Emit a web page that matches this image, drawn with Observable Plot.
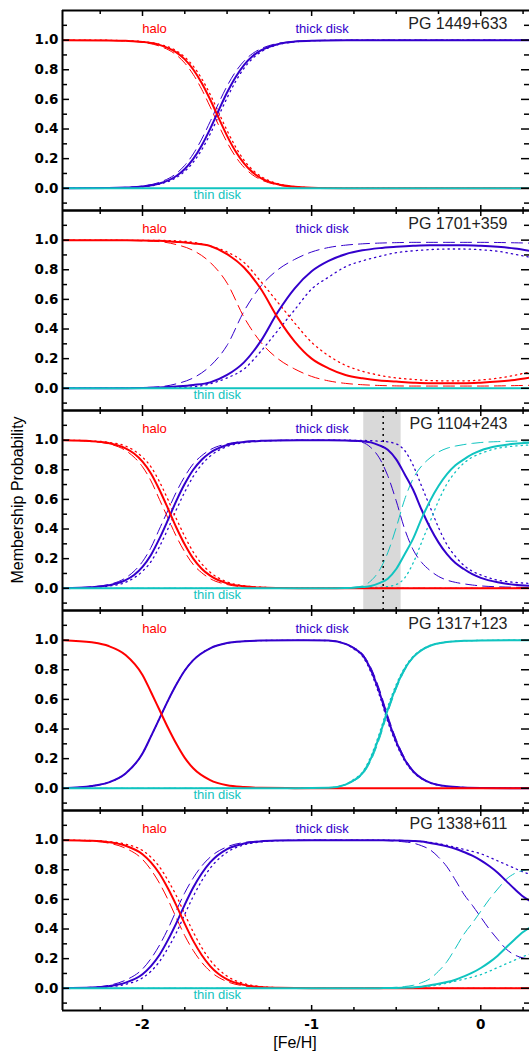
<!DOCTYPE html>
<html><head><meta charset="utf-8">
<script src="https://cdn.jsdelivr.net/npm/d3@7"></script>
<script src="https://cdn.jsdelivr.net/npm/@observablehq/plot@0.6"></script>
<style>
html,body{margin:0;padding:0;background:#fff;}
#wrap{position:relative;width:529px;height:1052px;overflow:hidden;font-family:"Liberation Sans",Arial,sans-serif;}
#chart{position:absolute;left:0;top:0;}
#ylab{position:absolute;left:18px;top:500px;transform:translate(-50%,-50%) rotate(-90deg);font-size:16px;white-space:nowrap;color:#000;}
#xlab{position:absolute;left:295px;top:1043px;transform:translate(-50%,-50%);font-size:16px;white-space:nowrap;color:#000;}
</style></head><body>
<div id="wrap"><div id="chart"></div><div id="ylab">Membership Probability</div><div id="xlab">[Fe/H]</div></div>
<script>
// ---------- categories / labels ----------
const stars = ["PG 1449+633", "PG 1701+359", "PG 1104+243", "PG 1317+123", "PG 1338+611"];
const components = ["halo", "thick disk", "thin disk"];
const componentLabelFeH = [-1.929, -0.938, -1.558];
const componentLabelProb = [1.076, 1.076, -0.047];
const starLabelFeH = 0.158;
const starLabelProb = 1.11;
const bandStar = "PG 1104+243";
const bandFeH = [-0.692, -0.471];
const markerFeH = -0.577;

// ---------- axis ticks ----------
const xDomain = [-2.473, 0.288];
const yDomain = [-0.15, 1.2];
const xMajor = [-2, -1, 0];
const xMinor = [-2.25, -1.75, -1.5, -1.25, -0.75, -0.5, -0.25, 0.25];
const yMajor = [0, 0.2, 0.4, 0.6, 0.8, 1.0];
const yMinor = [-0.1, 0.1, 0.3, 0.5, 0.7, 0.9, 1.1];

// ---------- panel 1: PG 1449+633 ----------
const p1FeH = [-2.47, -2.2, -2.1, -2.0, -1.9, -1.8, -1.75, -1.7, -1.65, -1.6, -1.55, -1.5, -1.45, -1.4, -1.35, -1.3, -1.2, -1.1, -1.0, -0.8, -0.5, 0.29];
const p1HaloSolid  = [1, 0.998, 0.995, 0.988, 0.968, 0.917, 0.870, 0.802, 0.711, 0.599, 0.475, 0.354, 0.250, 0.168, 0.109, 0.069, 0.027, 0.010, 0.004, 0.001, 0, 0];
const p1HaloDashed = [1, 0.998, 0.994, 0.985, 0.960, 0.900, 0.845, 0.768, 0.668, 0.550, 0.426, 0.310, 0.214, 0.142, 0.091, 0.058, 0.022, 0.008, 0.003, 0, 0, 0];
const p1HaloDotted = [1, 0.999, 0.996, 0.990, 0.972, 0.928, 0.885, 0.824, 0.740, 0.634, 0.512, 0.390, 0.280, 0.190, 0.125, 0.080, 0.031, 0.012, 0.004, 0.001, 0, 0];
const p1ThickSolid  = [0, 0.002, 0.005, 0.012, 0.032, 0.083, 0.130, 0.198, 0.289, 0.401, 0.525, 0.646, 0.750, 0.832, 0.891, 0.931, 0.973, 0.990, 0.996, 0.999, 1, 1];
const p1ThickDashed = [0, 0.002, 0.006, 0.015, 0.040, 0.100, 0.155, 0.232, 0.332, 0.450, 0.574, 0.690, 0.786, 0.858, 0.909, 0.942, 0.978, 0.992, 0.997, 1, 1, 1];
const p1ThickDotted = [0, 0.001, 0.004, 0.010, 0.028, 0.072, 0.115, 0.176, 0.260, 0.366, 0.488, 0.610, 0.720, 0.810, 0.875, 0.920, 0.969, 0.988, 0.996, 0.999, 1, 1];
const p1ThinSolid   = [0, 0, 0, 0, 0, 0, 0, 0, 0, 0, 0, 0, 0, 0, 0, 0, 0, 0, 0, 0, 0, 0];

// ---------- panel 2: PG 1701+359 ----------
const p2FeH = [-2.47, -2.1, -2.0, -1.9, -1.8, -1.7, -1.6, -1.5, -1.4, -1.3, -1.2, -1.1, -1.0, -0.9, -0.8, -0.7, -0.6, -0.5, -0.4, -0.3, -0.2, -0.1, 0, 0.1, 0.2, 0.29];
const p2HaloSolid   = [1, 0.999, 0.998, 0.995, 0.988, 0.978, 0.96, 0.905, 0.815, 0.67, 0.475, 0.315, 0.20, 0.135, 0.09, 0.067, 0.052, 0.045, 0.038, 0.034, 0.034, 0.034, 0.038, 0.045, 0.056, 0.072];
const p2HaloDashed  = [1, 0.998, 0.995, 0.99, 0.97, 0.93, 0.85, 0.71, 0.48, 0.31, 0.2, 0.13, 0.08, 0.05, 0.033, 0.024, 0.019, 0.016, 0.015, 0.015, 0.015, 0.015, 0.015, 0.016, 0.018, 0.02];
const p2HaloDotted  = [1, 0.999, 0.999, 0.998, 0.995, 0.985, 0.96, 0.92, 0.85, 0.72, 0.58, 0.44, 0.31, 0.22, 0.155, 0.115, 0.088, 0.07, 0.06, 0.052, 0.05, 0.05, 0.056, 0.068, 0.088, 0.11];
const p2ThickSolid  = [0, 0.001, 0.002, 0.005, 0.012, 0.022, 0.04, 0.09, 0.175, 0.32, 0.515, 0.675, 0.79, 0.86, 0.905, 0.931, 0.946, 0.955, 0.962, 0.966, 0.966, 0.966, 0.962, 0.955, 0.944, 0.928];
const p2ThickDashed = [0, 0.002, 0.005, 0.01, 0.03, 0.07, 0.15, 0.29, 0.52, 0.69, 0.80, 0.87, 0.92, 0.95, 0.966, 0.975, 0.98, 0.983, 0.985, 0.985, 0.985, 0.985, 0.985, 0.984, 0.982, 0.98];
const p2ThickDotted = [0, 0.001, 0.001, 0.002, 0.004, 0.01, 0.03, 0.07, 0.13, 0.25, 0.39, 0.53, 0.67, 0.75, 0.82, 0.86, 0.89, 0.915, 0.928, 0.936, 0.94, 0.94, 0.935, 0.925, 0.905, 0.885];
const p2ThinSolid   = [0, 0, 0, 0, 0, 0, 0, 0, 0, 0, 0, 0, 0, 0, 0, 0, 0, 0, 0, 0, 0, 0, 0, 0, 0, 0];

// ---------- panel 3: PG 1104+243 ----------
const p3FeH = [-2.47, -2.3, -2.2, -2.1, -2.05, -2.0, -1.95, -1.9, -1.85, -1.8, -1.75, -1.7, -1.65, -1.6, -1.5, -1.4, -1.3, -1.2, -1.0, -0.9, -0.8, -0.75, -0.7, -0.65, -0.6, -0.55, -0.5, -0.45, -0.4, -0.35, -0.3, -0.25, -0.2, -0.15, -0.1, -0.05, 0, 0.1, 0.2, 0.29];
const p3HaloSolid   = [0.999, 0.993, 0.98, 0.945, 0.91, 0.855, 0.775, 0.665, 0.54, 0.41, 0.295, 0.2, 0.132, 0.085, 0.033, 0.013, 0.005, 0.002, 0, 0, 0, 0, 0, 0, 0, 0, 0, 0, 0, 0, 0, 0, 0, 0, 0, 0, 0, 0, 0, 0];
const p3HaloDashed  = [0.999, 0.99, 0.975, 0.93, 0.885, 0.82, 0.725, 0.6, 0.475, 0.35, 0.245, 0.16, 0.105, 0.065, 0.025, 0.009, 0.003, 0.001, 0, 0, 0, 0, 0, 0, 0, 0, 0, 0, 0, 0, 0, 0, 0, 0, 0, 0, 0, 0, 0, 0];
const p3HaloDotted  = [1, 0.995, 0.985, 0.96, 0.93, 0.885, 0.82, 0.72, 0.6, 0.47, 0.35, 0.245, 0.165, 0.108, 0.043, 0.017, 0.007, 0.003, 0, 0, 0, 0, 0, 0, 0, 0, 0, 0, 0, 0, 0, 0, 0, 0, 0, 0, 0, 0, 0, 0];
const p3ThickSolid  = [0.001, 0.007, 0.02, 0.055, 0.09, 0.145, 0.225, 0.335, 0.46, 0.59, 0.705, 0.8, 0.868, 0.915, 0.967, 0.987, 0.995, 0.998, 1, 1, 0.998, 0.996, 0.992, 0.985, 0.965, 0.935, 0.87, 0.77, 0.665, 0.53, 0.41, 0.31, 0.23, 0.17, 0.13, 0.095, 0.07, 0.04, 0.024, 0.017];
const p3ThickDashed = [0.001, 0.01, 0.025, 0.07, 0.115, 0.18, 0.275, 0.4, 0.525, 0.65, 0.755, 0.84, 0.895, 0.935, 0.975, 0.991, 0.997, 0.999, 1, 1, 0.997, 0.993, 0.985, 0.95, 0.88, 0.76, 0.59, 0.4, 0.26, 0.175, 0.12, 0.08, 0.055, 0.04, 0.03, 0.022, 0.016, 0.01, 0.007, 0.005];
const p3ThickDotted = [0, 0.005, 0.015, 0.04, 0.07, 0.115, 0.18, 0.28, 0.4, 0.53, 0.65, 0.755, 0.835, 0.892, 0.957, 0.983, 0.993, 0.997, 1, 1, 1, 0.999, 0.998, 0.996, 0.993, 0.988, 0.975, 0.93, 0.83, 0.69, 0.55, 0.41, 0.295, 0.215, 0.155, 0.115, 0.09, 0.055, 0.04, 0.033];
const p3ThinSolid   = [0, 0, 0, 0, 0, 0, 0, 0, 0, 0, 0, 0, 0, 0, 0, 0, 0, 0, 0, 0, 0.002, 0.004, 0.008, 0.015, 0.035, 0.065, 0.13, 0.23, 0.335, 0.47, 0.59, 0.69, 0.77, 0.83, 0.87, 0.905, 0.93, 0.96, 0.976, 0.983];
const p3ThinDashed  = [0, 0, 0, 0, 0, 0, 0, 0, 0, 0, 0, 0, 0, 0, 0, 0, 0, 0, 0, 0, 0.003, 0.007, 0.015, 0.05, 0.12, 0.24, 0.41, 0.6, 0.74, 0.825, 0.88, 0.92, 0.945, 0.96, 0.97, 0.978, 0.984, 0.99, 0.993, 0.995];
const p3ThinDotted  = [0, 0, 0, 0, 0, 0, 0, 0, 0, 0, 0, 0, 0, 0, 0, 0, 0, 0, 0, 0, 0, 0, 0.002, 0.004, 0.007, 0.012, 0.025, 0.07, 0.17, 0.31, 0.45, 0.59, 0.705, 0.785, 0.845, 0.885, 0.91, 0.945, 0.96, 0.967];

// ---------- panel 4: PG 1317+123 ----------
const p4FeH = [-2.47, -2.3, -2.2, -2.1, -2.0, -1.95, -1.9, -1.85, -1.8, -1.75, -1.7, -1.6, -1.5, -1.4, -1.3, -1.1, -0.9, -0.8, -0.75, -0.7, -0.65, -0.6, -0.55, -0.5, -0.45, -0.4, -0.35, -0.3, -0.2, -0.1, 0, 0.29];
const p4HaloSolid   = [1, 0.985, 0.96, 0.9, 0.765, 0.65, 0.53, 0.41, 0.3, 0.205, 0.135, 0.055, 0.02, 0.008, 0.003, 0.001, 0, 0, 0, 0, 0, 0, 0, 0, 0, 0, 0, 0, 0, 0, 0, 0];
const p4ThickSolid  = [0, 0.015, 0.04, 0.1, 0.235, 0.35, 0.47, 0.59, 0.7, 0.795, 0.865, 0.945, 0.98, 0.992, 0.997, 0.999, 0.997, 0.975, 0.945, 0.9, 0.8, 0.65, 0.47, 0.315, 0.195, 0.115, 0.067, 0.038, 0.013, 0.005, 0.002, 0];
const p4ThickDashed = [0, 0.015, 0.04, 0.1, 0.235, 0.35, 0.47, 0.59, 0.7, 0.795, 0.865, 0.945, 0.98, 0.992, 0.997, 0.999, 0.997, 0.977, 0.95, 0.908, 0.815, 0.67, 0.49, 0.33, 0.205, 0.12, 0.07, 0.04, 0.014, 0.005, 0.002, 0];
const p4ThickDotted = [0, 0.015, 0.04, 0.1, 0.235, 0.35, 0.47, 0.59, 0.7, 0.795, 0.865, 0.945, 0.98, 0.992, 0.997, 0.999, 0.997, 0.973, 0.94, 0.892, 0.785, 0.63, 0.45, 0.30, 0.185, 0.11, 0.064, 0.036, 0.012, 0.005, 0.002, 0];
const p4ThinSolid   = [0, 0, 0, 0, 0, 0, 0, 0, 0, 0, 0, 0, 0, 0, 0, 0, 0.003, 0.025, 0.055, 0.1, 0.2, 0.35, 0.53, 0.685, 0.805, 0.885, 0.933, 0.962, 0.987, 0.995, 0.998, 1];
const p4ThinDashed  = [0, 0, 0, 0, 0, 0, 0, 0, 0, 0, 0, 0, 0, 0, 0, 0, 0.003, 0.023, 0.05, 0.092, 0.185, 0.33, 0.51, 0.67, 0.795, 0.88, 0.93, 0.96, 0.986, 0.995, 0.998, 1];
const p4ThinDotted  = [0, 0, 0, 0, 0, 0, 0, 0, 0, 0, 0, 0, 0, 0, 0, 0, 0.003, 0.027, 0.06, 0.108, 0.215, 0.37, 0.55, 0.70, 0.815, 0.89, 0.936, 0.964, 0.988, 0.995, 0.998, 1];

// ---------- panel 5: PG 1338+611 ----------
const p5FeH = [-2.47, -2.3, -2.2, -2.1, -2.0, -1.95, -1.9, -1.85, -1.8, -1.75, -1.7, -1.65, -1.6, -1.5, -1.4, -1.3, -1.2, -1.0, -0.8, -0.6, -0.5, -0.45, -0.4, -0.35, -0.3, -0.25, -0.2, -0.15, -0.1, -0.05, 0, 0.05, 0.1, 0.15, 0.2, 0.25, 0.29];
const p5HaloSolid   = [0.999, 0.995, 0.986, 0.962, 0.905, 0.85, 0.775, 0.675, 0.56, 0.435, 0.32, 0.225, 0.15, 0.06, 0.023, 0.008, 0.003, 0, 0, 0, 0, 0, 0, 0, 0, 0, 0, 0, 0, 0, 0, 0, 0, 0, 0, 0, 0];
const p5HaloDashed  = [0.999, 0.993, 0.98, 0.945, 0.87, 0.80, 0.71, 0.60, 0.475, 0.355, 0.255, 0.175, 0.115, 0.045, 0.016, 0.006, 0.002, 0, 0, 0, 0, 0, 0, 0, 0, 0, 0, 0, 0, 0, 0, 0, 0, 0, 0, 0, 0];
const p5HaloDotted  = [1, 0.997, 0.99, 0.973, 0.93, 0.885, 0.82, 0.73, 0.625, 0.5, 0.38, 0.275, 0.19, 0.082, 0.032, 0.012, 0.004, 0, 0, 0, 0, 0, 0, 0, 0, 0, 0, 0, 0, 0, 0, 0, 0, 0, 0, 0, 0];
const p5ThickSolid  = [0.001, 0.005, 0.014, 0.038, 0.095, 0.15, 0.225, 0.325, 0.44, 0.565, 0.68, 0.775, 0.85, 0.94, 0.977, 0.992, 0.997, 1, 1, 0.999, 0.998, 0.996, 0.994, 0.99, 0.98, 0.97, 0.958, 0.942, 0.92, 0.895, 0.863, 0.825, 0.78, 0.725, 0.67, 0.62, 0.59];
const p5ThickDashed = [0.001, 0.007, 0.02, 0.055, 0.13, 0.2, 0.29, 0.4, 0.525, 0.645, 0.745, 0.825, 0.885, 0.955, 0.984, 0.994, 0.998, 1, 1, 0.998, 0.993, 0.988, 0.98, 0.962, 0.935, 0.885, 0.82, 0.73, 0.635, 0.56, 0.48, 0.40, 0.33, 0.265, 0.225, 0.205, 0.198];
const p5ThickDotted = [0, 0.003, 0.01, 0.027, 0.07, 0.115, 0.18, 0.27, 0.375, 0.5, 0.62, 0.725, 0.81, 0.918, 0.968, 0.988, 0.996, 1, 1, 1, 0.998, 0.997, 0.995, 0.99, 0.985, 0.977, 0.965, 0.952, 0.938, 0.924, 0.908, 0.885, 0.86, 0.835, 0.81, 0.785, 0.77];
const p5ThinSolid   = [0, 0, 0, 0, 0, 0, 0, 0, 0, 0, 0, 0, 0, 0, 0, 0, 0, 0, 0, 0.001, 0.002, 0.004, 0.006, 0.01, 0.02, 0.03, 0.042, 0.058, 0.08, 0.105, 0.137, 0.175, 0.22, 0.275, 0.33, 0.38, 0.41];
const p5ThinDashed  = [0, 0, 0, 0, 0, 0, 0, 0, 0, 0, 0, 0, 0, 0, 0, 0, 0, 0, 0, 0.002, 0.007, 0.012, 0.02, 0.038, 0.065, 0.115, 0.18, 0.27, 0.365, 0.44, 0.52, 0.60, 0.67, 0.735, 0.775, 0.795, 0.802];
const p5ThinDotted  = [0, 0, 0, 0, 0, 0, 0, 0, 0, 0, 0, 0, 0, 0, 0, 0, 0, 0, 0, 0, 0.002, 0.003, 0.005, 0.01, 0.015, 0.023, 0.035, 0.048, 0.062, 0.076, 0.092, 0.115, 0.14, 0.165, 0.19, 0.215, 0.23];

// ---------- assemble table ----------
const panels = [
  {star: stars[0], feh: p1FeH, s: {"thick disk": {dotted: p1ThickDotted, dashed: p1ThickDashed, solid: p1ThickSolid}, "halo": {dotted: p1HaloDotted, dashed: p1HaloDashed, solid: p1HaloSolid}, "thin disk": {solid: p1ThinSolid}}},
  {star: stars[1], feh: p2FeH, s: {"thick disk": {dotted: p2ThickDotted, dashed: p2ThickDashed, solid: p2ThickSolid}, "halo": {dotted: p2HaloDotted, dashed: p2HaloDashed, solid: p2HaloSolid}, "thin disk": {solid: p2ThinSolid}}},
  {star: stars[2], feh: p3FeH, s: {"thick disk": {dotted: p3ThickDotted, dashed: p3ThickDashed, solid: p3ThickSolid}, "halo": {dotted: p3HaloDotted, dashed: p3HaloDashed, solid: p3HaloSolid}, "thin disk": {dotted: p3ThinDotted, dashed: p3ThinDashed, solid: p3ThinSolid}}},
  {star: stars[3], feh: p4FeH, s: {"thick disk": {dotted: p4ThickDotted, dashed: p4ThickDashed, solid: p4ThickSolid}, "halo": {solid: p4HaloSolid}, "thin disk": {dotted: p4ThinDotted, dashed: p4ThinDashed, solid: p4ThinSolid}}},
  {star: stars[4], feh: p5FeH, s: {"thick disk": {dotted: p5ThickDotted, dashed: p5ThickDashed, solid: p5ThickSolid}, "halo": {dotted: p5HaloDotted, dashed: p5HaloDashed, solid: p5HaloSolid}, "thin disk": {dotted: p5ThinDotted, dashed: p5ThinDashed, solid: p5ThinSolid}}}
];
const rows = [];
for (const p of panels) {
  for (const comp in p.s) for (const style in p.s[comp]) {
    const vals = p.s[comp][style];
    if (vals.length !== p.feh.length) console.error("length mismatch", p.star, comp, style, vals.length, p.feh.length);
    vals.forEach((v, i) => rows.push({star: p.star, comp, style, feh: p.feh[i], prob: v}));
  }
}
const colors = {"halo": "#ff0000", "thick disk": "#3300cc", "thin disk": "#10c4c0"};
const styleW = {solid: 2, dashed: 1, dotted: 1.3};
const styleDash = {solid: null, dashed: "11,6", dotted: "1.3,4"};

const lineMarks = [];
for (const style of ["dotted", "dashed", "solid"]) {
  for (const comp of ["thick disk", "halo", "thin disk"]) {
    const d = rows.filter(r => r.style === style && r.comp === comp);
    if (!d.length) continue;
    lineMarks.push(Plot.line(d, {x: "feh", y: "prob", fy: "star", z: "star", stroke: colors[comp],
      strokeWidth: styleW[style], strokeDasharray: styleDash[style], curve: "monotone-x", clip: true}));
  }
}
const compLabels = components.map((c, i) => ({text: c, feh: componentLabelFeH[i], prob: componentLabelProb[i]}));
const starLabels = stars.map(s => ({star: s, feh: starLabelFeH, prob: starLabelProb}));
const band = [{star: bandStar, lo: bandFeH[0], hi: bandFeH[1]}];
const marker = [{star: bandStar, feh: markerFeH}];

const tickStyle = {tickFormat: () => "", label: null, strokeWidth: 1.5, stroke: "#000"};
const fig = Plot.plot({
  width: 529, height: 1052,
  marginLeft: 62, marginRight: 0, marginTop: 8, marginBottom: 41,
  x: {domain: xDomain},
  y: {domain: yDomain},
  fy: {domain: stars, padding: 0, axis: null, label: null},
  style: {fontFamily: "'Liberation Sans', Arial, sans-serif", background: "transparent"},
  marks: [
    Plot.rect(band, {x1: "lo", x2: "hi", fy: "star", fill: "#d9d9d9"}),
    Plot.ruleX(marker, {x: "feh", fy: "star", stroke: "#000", strokeWidth: 1.5, strokeDasharray: "2,4"}),
    ...lineMarks,
    Plot.text(compLabels, {x: "feh", y: "prob", text: "text", fill: d => colors[d.text], fontSize: 13}),
    Plot.text(starLabels, {x: "feh", y: "prob", fy: "star", text: "star", textAnchor: "end", fill: "#222", fontSize: 16}),
    // frame lines
    Plot.ruleY([yDomain[0], yDomain[1]], {stroke: "#000", strokeWidth: 2}),
    Plot.ruleX([xDomain[0]], {stroke: "#000", strokeWidth: 2}),
    // x ticks (inward, every panel, both sides)
    Plot.axisX(xMajor, {anchor: "bottom", facetAnchor: null, tickSize: -5, ...tickStyle}),
    Plot.axisX(xMinor, {anchor: "bottom", facetAnchor: null, tickSize: -3, ...tickStyle}),
    Plot.axisX(xMajor, {anchor: "top", facetAnchor: null, tickSize: -5, ...tickStyle}),
    Plot.axisX(xMinor, {anchor: "top", facetAnchor: null, tickSize: -3, ...tickStyle}),
    Plot.axisX(xMajor, {anchor: "bottom", tickSize: 0, tickPadding: 9, tickFormat: d => String(d), label: null,
      fontSize: 13.5, fontWeight: "bold", fontFamily: "'DejaVu Sans'"}),
    // y ticks
    Plot.axisY(yMajor, {anchor: "left", tickSize: -7, ...tickStyle}),
    Plot.axisY(yMinor, {anchor: "left", tickSize: -5, ...tickStyle}),
    Plot.axisY(yMajor, {anchor: "right", tickSize: -9, ...tickStyle}),
    Plot.axisY(yMinor, {anchor: "right", tickSize: -6, ...tickStyle}),
    Plot.axisY(yMajor, {anchor: "left", tickSize: 0, tickPadding: 4, tickFormat: d3.format(".1f"), label: null,
      fontSize: 13.5, fontWeight: "bold", fontFamily: "'DejaVu Sans'"})
  ]
});
document.getElementById("chart").appendChild(fig);
</script>
</body></html>
